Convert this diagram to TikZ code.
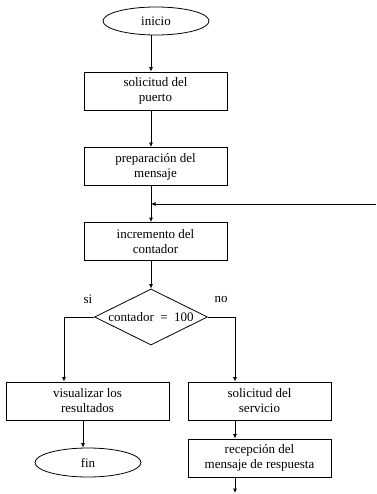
\documentclass[tikz,border=0pt]{standalone}
\usepackage{fontspec}
\setmainfont{Liberation Serif}
\usetikzlibrary{shapes.geometric,arrows.meta}
\begin{document}
\begin{tikzpicture}[x=1pt,y=-1pt,
  every node/.style={font=\fontsize{13}{15}\selectfont},
  proc/.style={draw,line width=0.8pt,rectangle,minimum width=143pt,minimum height=38pt,inner sep=0pt,align=center},
  term/.style={draw,line width=0.8pt,ellipse,minimum width=106pt,minimum height=28pt,inner sep=0pt},
  dec/.style={draw,line width=0.8pt,diamond,aspect=2,minimum width=113pt,minimum height=56pt,inner sep=0pt},
  lbl/.style={inner sep=0pt},
  arr/.style={line width=0.8pt,-{Latex[length=4.5pt,width=4pt]}},
  ln/.style={line width=0.8pt}]
\useasboundingbox (0,0) rectangle (376,494);
\node[term] (inicio) at (156,21) {inicio};
\node[proc] (puerto) at (155.5,91) {solicitud del\\puerto};
\node[proc] (prep) at (155.5,166.5) {preparación del\\mensaje};
\node[proc] (incr) at (155.5,241.5) {incremento del\\contador};
\node[dec] (cond) at (151,317) {contador\ \ =\ \ 100};
\node[lbl] (si) at (88,299) {si};
\node[lbl] (no) at (221,299) {no};
\node[proc,minimum width=163pt] (vis) at (87.5,401) {visualizar los\\resultados};
\node[term,minimum height=29pt] (fin) at (88,462.5) {fin};
\node[proc] (serv) at (259.5,401) {solicitud del\\servicio};
\node[proc] (recep) at (259.5,458) {recepción del\\mensaje de respuesta};
\coordinate (axis) at (151,0);
\coordinate (loopin) at (376,204);
\coordinate (leftx) at (64,0);
\coordinate (rightx) at (235,0);
\coordinate (finx) at (83,0);
\coordinate (bottom) at (235,493);
\draw[arr] (inicio.south -| axis) -- (puerto.north -| axis);
\draw[arr] (puerto.south -| axis) -- (prep.north -| axis);
\draw[arr] (prep.south -| axis) -- (incr.north -| axis);
\draw[arr] (loopin) -- (loopin -| axis);
\draw[arr] (incr.south -| axis) -- (cond.north);
\draw[arr] (cond.west) -| (vis.north -| leftx);
\draw[arr] (cond.east) -| (serv.north -| rightx);
\draw[arr] (vis.south -| finx) -- (fin.north -| finx);
\draw[arr] (serv.south -| rightx) -- (recep.north -| rightx);
\draw[arr] (recep.south -| rightx) -- (bottom);
\end{tikzpicture}
\end{document}
